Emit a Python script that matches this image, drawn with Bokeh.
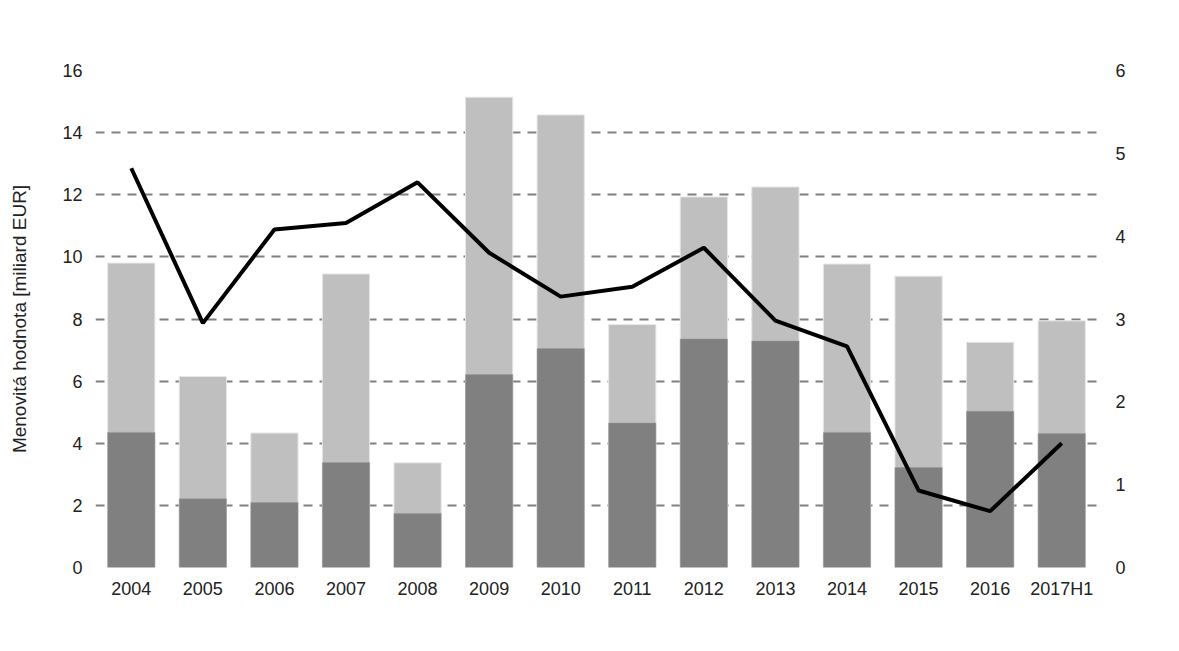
import math
from bokeh.plotting import figure
from bokeh.models import (Range1d, LinearAxis, Legend, LegendItem, ColumnDataSource,
                          FixedTicker, Label)
from bokeh.embed import file_html
from bokeh.resources import INLINE

categories = ["2004", "2005", "2006", "2007", "2008", "2009", "2010",
              "2011", "2012", "2013", "2014", "2015", "2016", "2017H1"]
total_demand = [9.80, 6.15, 4.33, 9.45, 3.37, 15.14, 14.57,
                7.82, 11.93, 12.25, 9.77, 9.38, 7.25, 7.94]
accepted_demand = [4.35, 2.21, 2.09, 3.38, 1.74, 6.21, 7.05,
                   4.65, 7.36, 7.29, 4.35, 3.22, 5.03, 4.31]
avg_rate = [4.82, 2.95, 4.08, 4.16, 4.65, 3.80, 3.27,
            3.39, 3.86, 2.98, 2.67, 0.93, 0.68, 1.50]

title_text = "Dopyt a akceptovaný dopyt v domácich aukciách ŠD (mld. eur) a úroková sadzba z aukcií (% p. a.)"
left_label = "Menovitá hodnota [miliard EUR]"
right_label = "Úroková sadzba [% p. a.]"
sans = "Liberation Sans"
fs = "18px"
txt_col = "#222222"

xs = list(range(len(categories)))
src = ColumnDataSource(dict(x=xs, total=total_demand, acc=accepted_demand, rate=avg_rate))

p = figure(x_range=Range1d(-0.5, len(categories) - 0.5), y_range=Range1d(0, 16),
           frame_width=1002, frame_height=497,
           min_border_left=95, min_border_right=81, min_border_top=70, min_border_bottom=84,
           output_backend="svg", toolbar_location=None)
p.extra_y_ranges = {"r": Range1d(0, 6)}

p.outline_line_color = None
p.background_fill_color = "white"
p.border_fill_color = "white"

r1 = p.vbar(x="x", top="total", width=0.66, source=src, fill_color="#bfbfbf",
            line_color="#e6e6e6", line_width=1)
r2 = p.vbar(x="x", top="acc", width=0.66, source=src, fill_color="#808080",
            line_color="#9a9a9a", line_width=0.5)
r3 = p.line(x="x", y="rate", source=src, y_range_name="r", line_color="black", line_width=4)

p.xgrid.grid_line_color = None
p.ygrid.grid_line_color = "#808080"
p.ygrid.grid_line_dash = "9 7"
p.ygrid.grid_line_width = 2
p.ygrid.ticker = FixedTicker(ticks=list(range(0, 17, 2)))
p.ygrid.level = "underlay"

ya = p.yaxis[0]
ya.ticker = FixedTicker(ticks=list(range(0, 17, 2)))
ya.axis_label = left_label
ya.axis_line_color = None
ya.major_tick_line_color = None
ya.minor_tick_line_color = None
ya.major_label_text_font = sans
ya.major_label_text_font_size = fs
ya.major_label_text_color = txt_col
ya.axis_label_text_font = sans
ya.axis_label_text_font_size = "19px"
ya.axis_label_text_font_style = "normal"
ya.axis_label_text_color = txt_col
ya.major_label_standoff = 7
ya.axis_label_standoff = 29

ra = LinearAxis(y_range_name="r", ticker=FixedTicker(ticks=list(range(0, 7))))
ra.axis_line_color = None
ra.major_tick_line_color = None
ra.minor_tick_line_color = None
ra.major_label_text_font = sans
ra.major_label_text_font_size = fs
ra.major_label_text_color = txt_col
ra.major_label_standoff = 12
p.add_layout(ra, "right")

p.add_layout(Label(x=len(categories) - 0.5 + 0.87, y=8.27, text=right_label, angle=math.pi / 2,
                   text_align="center", text_baseline="middle", text_font=sans,
                   text_font_size="19px", text_color=txt_col))
p.add_layout(Label(x=6.57, y=17.35, text=title_text,
                   text_align="center", text_baseline="middle",
                   text_font="Liberation Serif", text_font_style="bold",
                   text_font_size="26.5px", text_color="black"))

xa = p.xaxis[0]
xa.ticker = FixedTicker(ticks=xs)
xa.major_label_overrides = {i: c for i, c in zip(xs, categories)}
xa.axis_line_color = None
xa.major_tick_line_color = None
xa.minor_tick_line_color = None
xa.major_label_text_font = sans
xa.major_label_text_font_size = fs
xa.major_label_text_color = txt_col
xa.major_label_standoff = 5

legend = Legend(items=[
    LegendItem(label="Celkový dopyt (ľavá os)", renderers=[r1]),
    LegendItem(label="Akceptovaný dopyt (ľavá os)", renderers=[r2]),
    LegendItem(label="Priemerná úroková sadzba (pravá os)", renderers=[r3]),
], orientation="horizontal", location=(-27, -78))
legend.label_text_font = sans
legend.label_text_font_size = fs
legend.label_text_color = txt_col
legend.glyph_width = 46
legend.glyph_height = 20
legend.label_standoff = 2
legend.spacing = 62
legend.padding = 0
legend.margin = 0
legend.border_line_color = None
legend.background_fill_alpha = 0
p.add_layout(legend, "center")

open("out.html", "w").write(file_html(p, INLINE))
